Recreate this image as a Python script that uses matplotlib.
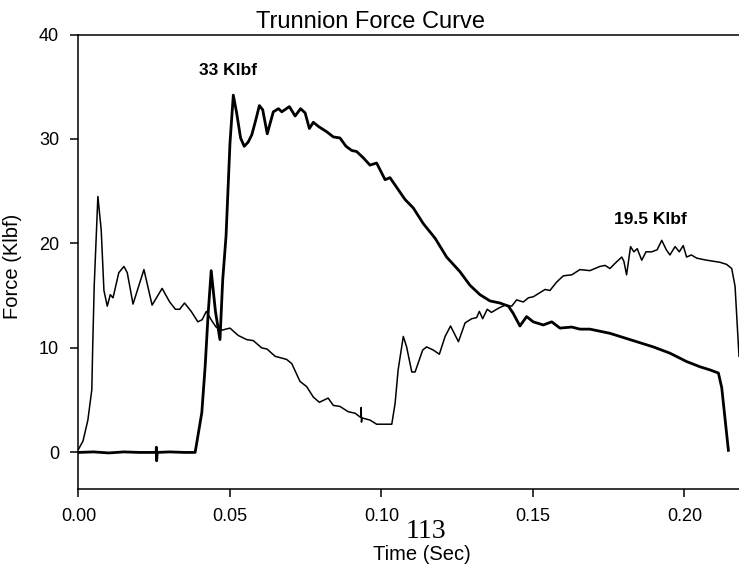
import matplotlib
matplotlib.use("Agg")
import matplotlib.pyplot as plt

plt.rcParams["font.family"] = ["Liberation Sans", "DejaVu Sans"]

# thin curve
time_a = [0.0, 0.0015, 0.0031, 0.0044, 0.0047, 0.0052, 0.0064, 0.0075, 0.0084, 0.0095,
          0.0105, 0.0114, 0.0133, 0.015, 0.0161, 0.018, 0.0216, 0.0243, 0.0276, 0.0301,
          0.032, 0.0334, 0.035, 0.0372, 0.0394, 0.0408, 0.0422, 0.044, 0.0454, 0.0473,
          0.05, 0.0527, 0.0555, 0.0577, 0.0605, 0.0622, 0.0649, 0.0687, 0.0704, 0.0731,
          0.0753, 0.0775, 0.0795, 0.0824, 0.0841, 0.0863, 0.089, 0.0913, 0.0929, 0.0932,
          0.0933, 0.0934, 0.0936, 0.0962, 0.0984, 0.1034, 0.1045, 0.1055, 0.1072, 0.1083,
          0.11, 0.1111, 0.1136, 0.1149, 0.1171, 0.1191, 0.121, 0.1228, 0.1254, 0.1276,
          0.1298, 0.1314, 0.1323, 0.1334, 0.1349, 0.1363, 0.1386, 0.1408, 0.143, 0.1446,
          0.1468, 0.1485, 0.1501, 0.1518, 0.154, 0.1556, 0.1578, 0.16, 0.1628, 0.1655,
          0.1688, 0.1721, 0.1738, 0.1754, 0.1771, 0.1793, 0.18, 0.1809, 0.1822, 0.1833,
          0.1844, 0.1859, 0.1873, 0.1892, 0.191, 0.1925, 0.194, 0.1952, 0.1969, 0.1983,
          0.1996, 0.2007, 0.2023, 0.204, 0.2056, 0.2073, 0.2095, 0.2117, 0.2139, 0.2156,
          0.2167, 0.218]
force_a = [0.3, 1.1, 3.1, 6.0, 10.2, 16.0, 24.5, 21.3, 15.5, 14.0,
           15.1, 14.8, 17.2, 17.8, 17.2, 14.2, 17.5, 14.1, 15.7, 14.4,
           13.7, 13.7, 14.3, 13.5, 12.5, 12.7, 13.5, 12.6, 12.0, 11.7,
           11.9, 11.2, 10.8, 10.7, 10.0, 9.9, 9.2, 8.9, 8.5, 6.8,
           6.3, 5.3, 4.8, 5.2, 4.5, 4.4, 3.9, 3.75, 3.4, 3.4,
           4.3, 2.9, 3.3, 3.1, 2.7, 2.7, 4.7, 7.9, 11.1, 10.1,
           7.7, 7.7, 9.8, 10.1, 9.8, 9.4, 11.1, 12.1, 10.6, 12.4,
           12.8, 12.9, 13.5, 12.8, 13.7, 13.4, 13.8, 14.1, 14.0, 14.6,
           14.4, 14.8, 14.9, 15.2, 15.6, 15.5, 16.3, 16.9, 17.0, 17.5,
           17.4, 17.8, 17.9, 17.6, 18.1, 18.7, 18.3, 17.0, 19.7, 19.2,
           19.5, 18.4, 19.2, 19.2, 19.4, 20.3, 19.4, 18.9, 19.7, 19.2,
           19.8, 18.7, 18.9, 18.6, 18.5, 18.4, 18.3, 18.2, 18.0, 17.6,
           15.9, 9.2]

# thick curve
time_b = [0.0, 0.005, 0.01, 0.015, 0.02, 0.0256, 0.0257, 0.0258, 0.026, 0.03,
          0.035, 0.0385, 0.0407, 0.0418, 0.0428, 0.0438, 0.0452, 0.0467, 0.0476, 0.0487,
          0.05, 0.0511, 0.0522, 0.0535, 0.0547, 0.056, 0.0572, 0.0585, 0.0597, 0.0608,
          0.0623, 0.0643, 0.066, 0.0671, 0.0696, 0.0715, 0.0733, 0.0748, 0.0762, 0.0775,
          0.0792, 0.0808, 0.0819, 0.0841, 0.0863, 0.0883, 0.0902, 0.0918, 0.094, 0.0962,
          0.0984, 0.1012, 0.1028, 0.1078, 0.1105, 0.1138, 0.1177, 0.1215, 0.1259, 0.1292,
          0.1325, 0.1358, 0.1391, 0.1419, 0.1435, 0.1457, 0.1479, 0.1501, 0.1534, 0.1562,
          0.1589, 0.1628, 0.1655, 0.1688, 0.1754, 0.1787, 0.1842, 0.1897, 0.1952, 0.2007,
          0.2051, 0.2084, 0.2112, 0.2123, 0.2145]
force_b = [0.0, 0.05, -0.05, 0.05, 0.0, 0.0, 0.5, -0.8, 0.0, 0.05,
           0.0, 0.0, 3.8, 8.2, 13.3, 17.4, 13.5, 10.8, 16.5, 20.7,
           29.6, 34.2, 32.5, 30.1, 29.3, 29.7, 30.4, 31.8, 33.2, 32.8,
           30.5, 32.6, 32.9, 32.6, 33.1, 32.2, 32.9, 32.5, 31.0, 31.6,
           31.2, 30.9, 30.7, 30.2, 30.1, 29.3, 28.9, 28.8, 28.2, 27.5,
           27.7, 26.1, 26.3, 24.2, 23.4, 21.9, 20.5, 18.7, 17.3, 16.0,
           15.1, 14.5, 14.3, 14.0, 13.3, 12.1, 13.0, 12.5, 12.2, 12.5,
           11.9, 12.0, 11.8, 11.8, 11.4, 11.1, 10.6, 10.1, 9.5, 8.7,
           8.2, 7.9, 7.6, 6.2, 0.2]

x_ticks = [0.0, 0.05, 0.10, 0.15, 0.20]
x_ticklabels = ["0.00", "0.05", "0.10", "0.15", "0.20"]
y_ticks = [0, 10, 20, 30, 40]

fig = plt.figure(figsize=(7.39, 5.64), dpi=100)
ax = fig.add_axes([0.1062, 0.133, 0.8938, 0.8058])

ax.plot(time_a, force_a, color="black", lw=1.1)
ax.plot(time_b, force_b, color="black", lw=2.0)

ax.set_xlim(0, 0.218)
ax.set_ylim(-3.5, 40)
ax.set_xticks(x_ticks)
ax.set_xticklabels(x_ticklabels)
ax.set_yticks(y_ticks)
ax.tick_params(labelsize=13, length=6, width=1.1, pad=8, direction="out")
ax.spines["right"].set_visible(False)
for s in ["left", "bottom", "top"]:
    ax.spines[s].set_linewidth(1.1)

ax.set_xlabel("Time (Sec)", fontsize=14.5)
ax.xaxis.set_label_coords(0.52, -0.124)
ax.set_ylabel("Force (Klbf)", fontsize=14.5)
ax.yaxis.set_label_coords(-0.085, 0.49)

# peak annotations
ax.text(0.0493, 36.55, "33 Klbf", fontsize=12.5, fontweight="bold", ha="center", va="center")
ax.text(0.1886, 22.25, "19.5 Klbf", fontsize=12.5, fontweight="bold", ha="center", va="center")

fig.text(0.5007, 1 - 28 / 564, "Trunnion Force Curve", fontsize=17, ha="center", va="baseline")
fig.text(425.5 / 739, 1 - 538 / 564, "113", fontsize=20, family="Liberation Serif",
         ha="center", va="baseline")

fig.savefig("out.png", dpi=100)
